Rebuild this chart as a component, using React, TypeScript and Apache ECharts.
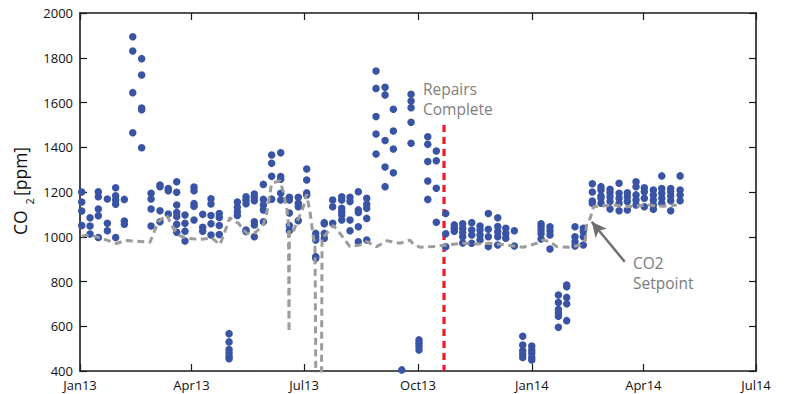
import React, { useEffect, useRef } from "react";
import * as echarts from "echarts";

// x values are days since 1 Jan 2013
const xTickDays = [0, 90, 181, 273, 365, 455, 546];
const xTickLabels = ["Jan13", "Apr13", "Jul13", "Oct13", "Jan14", "Apr14", "Jul14"];
const yMin = 400;
const yMax = 2000;
const yStep = 200;

// weekly groups of daily CO2 readings
const weekDays = [
  1.4, 8.1, 14.8, 22.1, 28.8, 35.8, 42.6, 49.8, 57.4, 64.6, 71.3, 78.1, 84.8, 92.1, 99.1, 105.8,
  112.5, 120.4, 127.1, 134.1, 140.8, 148.1, 154.8, 162.1, 169.1, 176.3, 183.1, 190.4, 197.3, 204.1,
  211.4, 218.1, 224.8, 231.6, 239.1, 246.4, 253.1, 259.9, 267.4, 273.8, 280.9, 287.8, 295.4, 302.3,
  309.1, 316.4, 323.1, 329.8, 337.4, 343.9, 350.8, 357.6, 364.9, 372.4, 379.6, 386.4, 393.1, 399.8,
  406.5, 413.8, 420.8, 428.1, 435.4, 442.1, 449.1, 455.8, 463.1, 469.9, 477.1, 484.7,
];
const weekValues = [
  [1200, 1155, 1115, 1050],
  [1085, 1048, 1012],
  [1201, 1179, 1124, 1094, 997],
  [1169, 1060, 1027],
  [1219, 1183, 1164, 1145, 997],
  [1167, 1070, 1056],
  [1894, 1830, 1644, 1465],
  [1796, 1723, 1575, 1568, 1398],
  [1194, 1169, 1124, 1048],
  [1231, 1224, 1116, 1067],
  [1216, 1206, 1102],
  [1246, 1199, 1142, 1108, 1090, 1056, 1020],
  [1097, 1060, 1025, 981],
  [1222, 1206, 1148, 1136, 1075],
  [1100, 1042, 1025],
  [1170, 1146, 1095, 1058, 1008],
  [1104, 1086, 1050, 1010],
  [567, 530, 496, 480, 465, 455],
  [1155, 1132, 1112, 1095],
  [1179, 1164, 1148, 1030, 1023],
  [1191, 1176, 1161, 1067, 1053, 1000],
  [1234, 1167, 1142, 1120, 1067],
  [1365, 1328, 1270, 1168],
  [1375, 1269, 1257, 1194, 1164],
  [1176, 1164, 1106, 1050, 1027],
  [1176, 1150, 1134, 1072],
  [1303, 1254, 1196, 1187],
  [1015, 1000, 985, 911, 904],
  [1063, 1058, 1015, 993],
  [1164, 1134, 1060],
  [1179, 1164, 1127, 1112, 1097, 1075],
  [1176, 1157, 1075, 1027],
  [1201, 1120, 1108, 1045, 978],
  [1172, 1145, 1127, 1082, 985],
  [1741, 1663, 1537, 1459, 1370],
  [1668, 1634, 1430, 1312, 1224],
  [1570, 1473, 1392, 1286],
  [405],
  [1637, 1607, 1577, 1512, 1418],
  [539, 524, 509, 494],
  [1447, 1413, 1336, 1249, 1167],
  [1383, 1340, 1217, 1065],
  [1104, 1013, 955],
  [1053, 1038, 1025],
  [1058, 1038, 1019, 1000, 972],
  [1063, 1030, 1008, 971],
  [1048, 1030, 1008, 986],
  [1104, 1033, 1000, 956],
  [1085, 1046, 1022, 1000, 963],
  [1038, 1015, 993],
  [1027, 959],
  [555, 516, 490, 475, 460],
  [512, 494, 479, 461, 449],
  [1058, 1045, 1030, 1013, 990],
  [1045, 1027, 1008, 945],
  [740, 706, 675, 660, 645, 595],
  [784, 777, 729, 700, 625],
  [1045, 1000, 978, 959],
  [1038, 1023, 1000, 963],
  [1237, 1200, 1160, 1150],
  [1224, 1209, 1182, 1172, 1150],
  [1212, 1197, 1179, 1157, 1124],
  [1239, 1194, 1172, 1150, 1116],
  [1197, 1179, 1157, 1120],
  [1246, 1224, 1187, 1164, 1142],
  [1219, 1201, 1172, 1134],
  [1209, 1187, 1164, 1142, 1123],
  [1272, 1216, 1194, 1172, 1150],
  [1216, 1201, 1182, 1161, 1116],
  [1272, 1209, 1187, 1161],
];

// CO2 setpoint
const setpointDays = [
  1.4, 8, 14.8, 21.6, 29.6, 36.3, 45.8, 56.5, 63.2, 70, 75.4, 79.4, 86.2, 97, 106.4, 113, 117, 121,
  127.9, 134.7, 141.4, 148, 150.8, 154.8, 161.6, 164.2, 167.2, 168.4, 168.8, 169.2, 172.3, 175.3,
  180.4, 183, 185.8, 188.4, 189.8, 190.6, 195, 195.5, 197.9, 204.6, 210, 218, 226.2, 231.6, 239.7,
  247.7, 258.5, 266.6, 269.2, 274.6, 285.4, 296.2, 309.6, 317.7, 331.2, 344.7, 358, 368.9, 374.2,
  379.6, 385, 395.8, 403.9, 408, 409.3, 412, 414.8, 430.8, 441.6, 457.8, 471.2, 482,
];
const setpointValues = [
  1003, 1008, 997, 985, 970, 983, 980, 975, 1067, 1097, 1038, 1008, 993, 988, 995, 965, 1023, 1085,
  1060, 1015, 1018, 1053, 1105, 1239, 1250, 1200, 1120, 1055, 575, 1030, 1023, 1067,
  1134, 1190, 1110, 1000, 970, 250, 250, 1000, 1007, 1050, 1015, 956, 963, 978, 956,
  982, 971, 985, 968, 953, 956, 963, 971, 967, 971, 963, 953, 971, 985,
  978, 956, 953, 963, 980, 1060, 1082, 1134, 1142, 1134, 1142, 1136, 1142,
];

// "Repairs Complete" marker
const repairDays = [294, 294];
const repairValues = [1500, 400];

// arrow pointing to the setpoint
const arrowFrom = [440, 888];
const arrowTo = [413.3, 1067];

const FONT = "'Open Sans', 'Noto Sans', sans-serif";

export default function App() {
  const ref = useRef<HTMLDivElement>(null);

  useEffect(() => {
    if (!ref.current) return;
    const chart = echarts.init(ref.current, undefined, { renderer: "svg" });

    const scatterData: number[][] = [];
    weekDays.forEach((d, i) => {
      weekValues[i].forEach((v) => scatterData.push([d, v]));
    });
    const setpointData = setpointDays.map((d, i) => [d, setpointValues[i]]);
    const repairData = repairDays.map((d, i) => [d, repairValues[i]]);

    const axisLine = { show: true, onZero: false, lineStyle: { color: "#1a1a1a", width: 1.6 } };
    const tickStyle = { color: "#1a1a1a", width: 1.2 };

    chart.setOption({
      animation: false,
      backgroundColor: "#ffffff",
      grid: { left: 80, right: 32, top: 13, bottom: 23, containLabel: false },
      xAxis: [
        {
          type: "value",
          min: 0,
          max: 546,
          position: "bottom",
          axisLine,
          splitLine: { show: false },
          axisTick: { show: true, inside: true, length: 7, lineStyle: tickStyle, customValues: xTickDays },
          axisLabel: {
            show: true,
            customValues: xTickDays,
            margin: 8,
            color: "#111",
            fontSize: 13,
            lineHeight: 12,
            fontFamily: FONT,
            formatter: (v: number) => {
              const i = xTickDays.indexOf(v);
              return i >= 0 ? xTickLabels[i] : "";
            },
          },
        },
        {
          type: "value",
          min: 0,
          max: 546,
          position: "top",
          axisLine,
          splitLine: { show: false },
          axisTick: { show: true, inside: true, length: 7, lineStyle: tickStyle, customValues: xTickDays },
          axisLabel: { show: false },
        },
      ],
      yAxis: [
        {
          type: "value",
          min: yMin,
          max: yMax,
          interval: yStep,
          position: "left",
          axisLine,
          splitLine: { show: false },
          axisTick: { show: true, inside: true, length: 7, lineStyle: tickStyle },
          axisLabel: {
            show: true,
            margin: 7,
            color: "#111",
            fontSize: 13,
            lineHeight: 12,
            fontFamily: FONT,
            formatter: (v: number) => String(v),
          },
        },
        {
          type: "value",
          min: yMin,
          max: yMax,
          interval: yStep,
          position: "right",
          axisLine,
          splitLine: { show: false },
          axisTick: { show: true, inside: true, length: 7, lineStyle: tickStyle },
          axisLabel: { show: false },
        },
      ],
      series: [
        {
          type: "line",
          name: "Repairs",
          data: repairData,
          symbol: "none",
          z: 1,
          lineStyle: { color: "#ed1c24", width: 3.2, type: [7, 5] },
        },
        {
          type: "scatter",
          name: "CO2",
          data: scatterData,
          symbol: "circle",
          symbolSize: 7.5,
          z: 2,
          itemStyle: { color: "#3953a5", opacity: 1 },
        },
        {
          type: "line",
          name: "Setpoint",
          data: setpointData,
          symbol: "none",
          z: 3,
          clip: true,
          lineStyle: { color: "#9c9c9c", width: 3, type: [7, 4.5] },
          markLine: {
            silent: true,
            symbol: ["none", "arrow"],
            symbolSize: [11, 15],
            label: { show: false },
            lineStyle: { color: "#707070", width: 2.5, type: "solid" },
            data: [[{ coord: arrowFrom }, { coord: arrowTo }]],
          },
        },
      ],
      graphic: [
        {
          type: "text",
          left: 423,
          top: 79,
          style: { text: "Repairs\nComplete", fontSize: 15.5, lineHeight: 20, fontFamily: FONT, fill: "#808080" },
        },
        {
          type: "text",
          left: 633,
          top: 253,
          style: { text: "CO2\nSetpoint", fontSize: 15.5, lineHeight: 20, fontFamily: FONT, fill: "#7a7a7a" },
        },
        {
          type: "group",
          x: 20,
          y: 192,
          rotation: Math.PI / 2,
          children: [
            {
              type: "text",
              x: -43,
              y: 0,
              style: { text: "CO", fontSize: 17.5, fontFamily: FONT, fill: "#111", verticalAlign: "middle", align: "left" },
            },
            {
              type: "text",
              x: -12.5,
              y: 9,
              style: { text: "2", fontSize: 11, fontFamily: FONT, fill: "#111", verticalAlign: "middle", align: "left" },
            },
            {
              type: "text",
              x: -4,
              y: 0,
              style: { text: "[ppm]", fontSize: 17.5, fontFamily: FONT, fill: "#111", verticalAlign: "middle", align: "left" },
            },
          ],
        },
      ],
    });

    return () => chart.dispose();
  }, []);

  return (
    <div
      ref={ref}
      style={{ position: "fixed", left: 0, top: 0, width: 788, height: 394, background: "#fff" }}
    />
  );
}
